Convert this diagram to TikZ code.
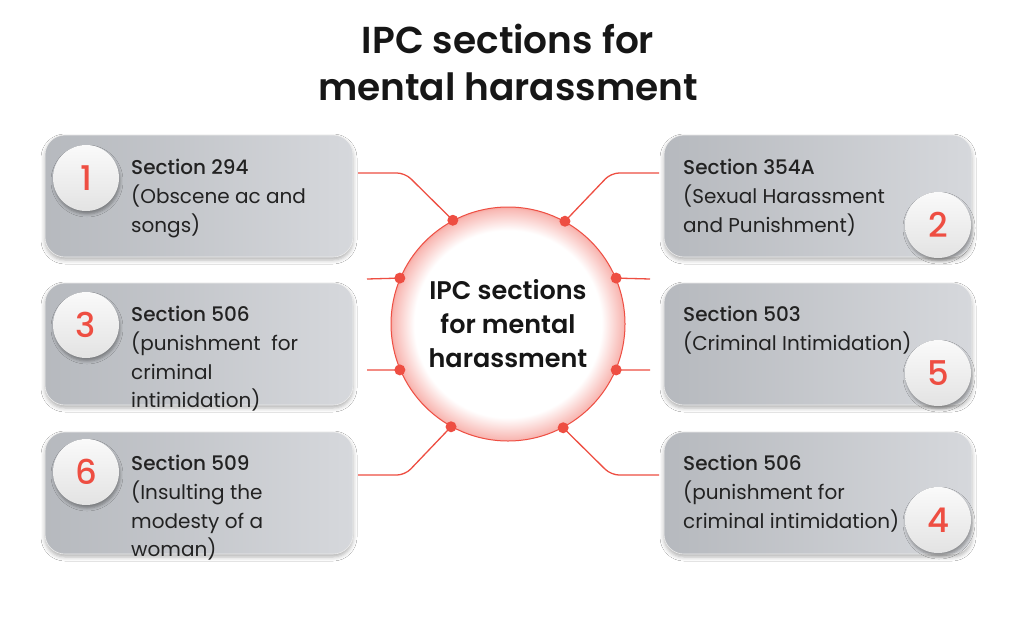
\documentclass[tikz,border=0pt]{standalone}
\usepackage{fontspec}
\setmainfont{Poppins}[BoldFont={Poppins SemiBold}]
\newfontfamily\medfont{Poppins Medium}
\usetikzlibrary{shadows.blur}
\definecolor{cred}{RGB}{238,78,66}
\definecolor{boxL}{RGB}{182,185,190}
\definecolor{boxR}{RGB}{214,216,220}
\definecolor{ink}{RGB}{22,22,22}
\definecolor{txt}{RGB}{34,34,34}
\pgfdeclareradialshading{glow}{\pgfpointorigin}{color(0bp)=(white); color(20bp)=(white); color(24.6bp)=(cred!40); color(25bp)=(cred!50); color(50bp)=(cred!50)}
\tikzset{
  box/.style={rectangle, rounded corners=20pt, minimum width=308pt, minimum height=122pt, inner sep=0pt,
    left color=boxL, right color=boxR, draw=white!85!gray, line width=0.6pt,
    blur shadow={shadow xshift=0pt, shadow yshift=-3pt, shadow blur radius=4pt, shadow opacity=30}},
  badge/.style={circle, minimum size=66pt, inner sep=0pt, top color=gray!4, bottom color=gray!22,
    blur shadow={shadow xshift=1pt, shadow yshift=-3pt, shadow blur radius=3pt, shadow opacity=35},
    font=\medfont\fontsize{34}{34}\selectfont, text=cred},
  btext/.style={anchor=north west, align=left, inner sep=0pt, text=txt, font=\fontsize{20}{28.7}\selectfont},
  hub/.style={circle, minimum size=234pt, inner sep=0pt, shading=glow, draw=cred, line width=1pt},
  link/.style={draw=cred, line width=1.3pt, rounded corners=8pt},
  dot/.style={circle, fill=cred, minimum size=11pt, inner sep=0pt},
}
\newcommand{\hd}[1]{{\medfont #1}}
\begin{document}
\begin{tikzpicture}[x=1pt,y=-1pt]
\useasboundingbox[fill=white] (0,0) rectangle (1024,634);
% title
\node[font=\fontsize{37.5}{47}\selectfont\bfseries, text=ink, align=center] (title) at (508,62) {IPC sections for\\mental harassment};
% boxes
\node[box] (b1) at (199,196) {};
\node[box] (b3) at (199,344) {};
\node[box] (b6) at (199,493) {};
\node[box] (b2) at (818,196) {};
\node[box] (b5) at (818,344) {};
\node[box] (b4) at (818,493) {};
% badges
\node[badge] (n1) at (86,178) {1};
\node[badge] (n3) at (86,325) {3};
\node[badge] (n6) at (86,472) {6};
\node[badge] (n2) at (938,225) {2};
\node[badge] (n5) at (938,373) {5};
\node[badge] (n4) at (938,520) {4};
% texts
\node[btext] (t1) at (131,159) {\hd{Section 294}\\(Obscene ac and\\songs)};
\node[btext] (t3) at (131,306) {\hd{Section 506}\\(punishment\ \ for\\criminal\\intimidation)};
\node[btext] (t6) at (131,455) {\hd{Section 509}\\(Insulting the\\modesty of a\\woman)};
\node[btext] (t2) at (683,159) {\hd{Section 354A}\\(Sexual Harassment\\and Punishment)};
\node[btext] (t5) at (683,306) {\hd{Section 503}\\(Criminal Intimidation)};
\node[btext] (t4) at (683,455) {\hd{Section 506}\\(punishment for\\criminal intimidation)};
% hub
\node[hub, font=\fontsize{25.5}{34}\selectfont\bfseries, text=ink, align=center] (c) at (508,324) {IPC sections\\for mental\\harassment};
% link ends
\coordinate (e1) at (358,173);
\coordinate (e3a) at (367,279);
\coordinate (e3b) at (367,370);
\coordinate (e6) at (358,475);
\coordinate (e2) at (659,173);
\coordinate (e5a) at (650,279);
\coordinate (e5b) at (650,370);
\coordinate (e4) at (659,475);
\draw[link] (c.118.5) -- (405,173) -- (e1);
\draw[link] (c.61.5) -- (611,173) -- (e2);
\draw[link] (c.241.5) -- (405,475) -- (e6);
\draw[link] (c.298.5) -- (611,475) -- (e4);
\draw[link] (c.157) -- (e3a);
\draw[link] (c.203) -- (e3b);
\draw[link] (c.23) -- (e5a);
\draw[link] (c.-23) -- (e5b);
\foreach \a/\n in {118.5/d1,61.5/d2,241.5/d6,298.5/d4,157/d3a,203/d3b,23/d5a,-23/d5b}
  \node[dot] (\n) at (c.\a) {};
\end{tikzpicture}
\end{document}
